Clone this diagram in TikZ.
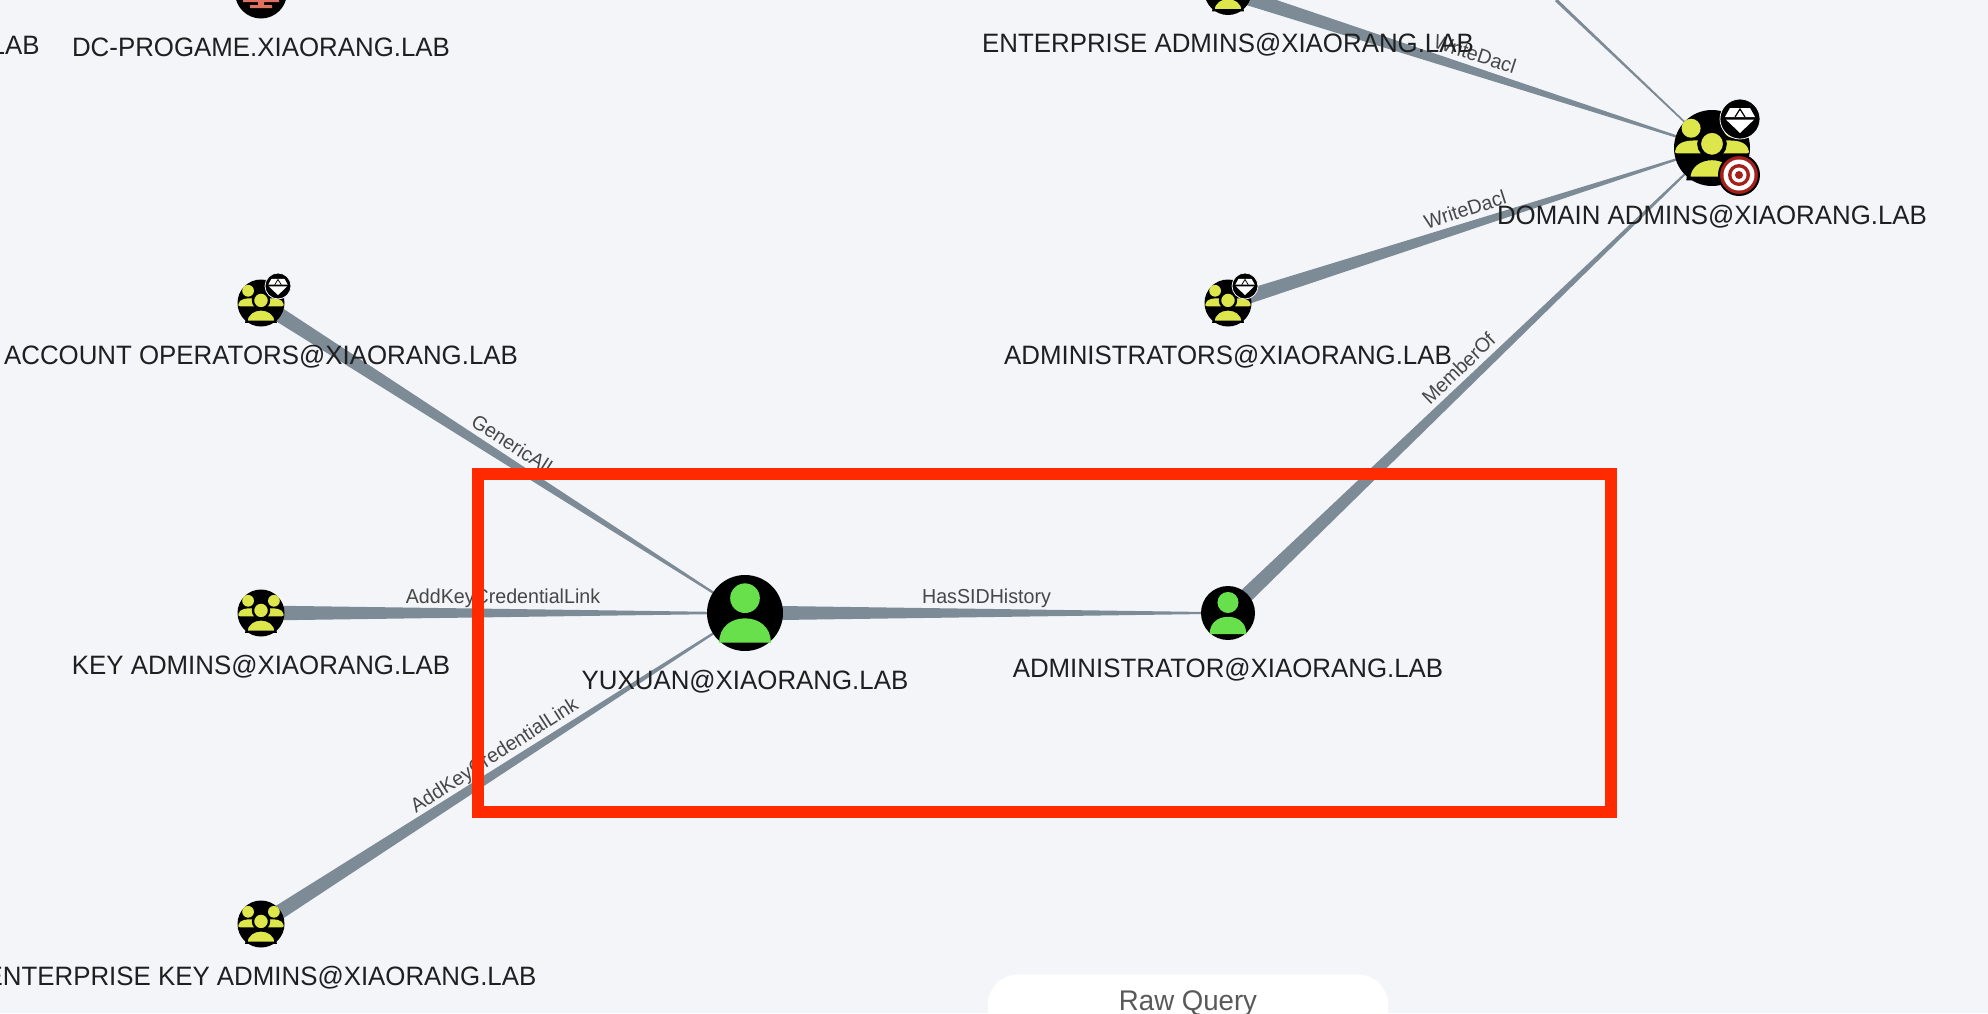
\documentclass[tikz,border=0pt]{standalone}
\usepackage{fontspec}
\setmainfont[FakeStretch=0.972]{Liberation Sans}
\usetikzlibrary{positioning, calc, backgrounds}

\definecolor{pagebg}{HTML}{F3F5F9}
\definecolor{edgegray}{HTML}{7C8B96}
\definecolor{usergreen}{HTML}{68E04B}
\definecolor{groupyellow}{HTML}{DDE64B}
\definecolor{hostsalmon}{HTML}{E0705F}
\definecolor{targetred}{HTML}{A5201A}
\definecolor{boxred}{HTML}{FF2A00}

% wedge from #2 (thick end) to #3 (thin end)
\newcommand{\taperedge}[3][3.75pt]{
  \fill[edgeline] ($(#2)!#1!90:(#3)$) -- ($(#2)!#1!-90:(#3)$)
    -- ($(#3)!.35pt!90:(#2)$) -- ($(#3)!.35pt!-90:(#2)$) -- cycle;
}
% icons: #1 node, #2 radius, drawn in units of the radius
\newcommand{\usericon}[2]{
  \begin{scope}[shift={(#1.center)}, x=#2*0.5pt, y=#2*0.5pt]
    \fill[usergreen] (0,.39) circle (.39);
    \fill[usergreen] (-.68,-.78) .. controls (-.68,-.35) and (-.35,-.14) .. (0,-.14)
      .. controls (.35,-.14) and (.68,-.35) .. (.68,-.78) -- cycle;
  \end{scope}
}
\newcommand{\groupicon}[2]{
  \begin{scope}[shift={(#1.center)}, x=#2*0.5pt, y=#2*0.5pt]
    \fill[groupyellow] (-.55,.52) circle (.25) (.55,.52) circle (.25);
    \fill[groupyellow, rounded corners=1pt] (-.98,-.14) .. controls (-.92,.2) and (-.6,.2) .. (-.3,.2)
      -- (.3,.2) .. controls (.6,.2) and (.92,.2) .. (.98,-.14) -- cycle;
    \filldraw[groupyellow, draw=black, line width=.05*#2*1pt] (0,.11) circle (.34);
    \filldraw[groupyellow, draw=black, line width=.05*#2*1pt] (-.62,-.8) .. controls (-.62,-.45) and (-.3,-.27) .. (0,-.27)
      .. controls (.3,-.27) and (.62,-.45) .. (.62,-.8) -- cycle;
  \end{scope}
}
\newcommand{\gembadge}[2]{
  \begin{scope}[shift={(#1.center)}, x=#2*0.5pt, y=#2*0.5pt]
    \fill[white] (-.5,.55) -- (.5,.55) -- (.75,.1) -- (-.75,.1) -- cycle;
    \fill[white] (-.7,-.03) -- (.7,-.03) -- (0,-.7) -- cycle;
    \draw[black, line width=.03*#2*1pt] (-.25,.1) -- (0,.5) -- (.25,.1);
  \end{scope}
}

\begin{document}
\begin{tikzpicture}[x=0.5pt, y=-0.5pt, node distance=8.9pt]
  \tikzset{
    usernode/.style={circle, fill=black, inner sep=0pt},
    groupnode/.style={circle, fill=black, inner sep=0pt, minimum size=23.5pt},
    gemnode/.style={circle, fill=black, draw=pagebg, line width=.4pt, inner sep=0pt},
    targetnode/.style={circle, fill=targetred, draw=black, line width=1pt, inner sep=0pt, minimum size=20pt},
    hostlabel/.style={inner sep=0pt, text height=9.5pt, text depth=0pt,
      text=black!88, font=\fontsize{13.3}{16}\selectfont},
    edgelabel/.style={midway, sloped, above=4.5pt, inner sep=0pt, text depth=0pt,
      text=black!72, font=\fontsize{10.1}{12}\selectfont},
    edgeline/.style={fill=edgegray},
    highlight/.style={draw=boxred, line width=6pt}
  }
  \path[use as bounding box, clip] (0,0) rectangle (1988,1013);

  \node[usernode, minimum size=38pt] (yuxuan) at (745,613) {};
  \node[usernode, minimum size=27pt] (admin) at (1228,613) {};
  \node[groupnode] (acctops) at (261,303) {};
  \node[groupnode] (keyadm) at (261,613) {};
  \node[groupnode] (entkey) at (261,924) {};
  \node[groupnode] (admins) at (1228,303) {};
  \node[groupnode] (entadm) at (1228,-8.5) {};
  \node[groupnode, minimum size=38pt] (domadm) at (1712,148) {};
  \node[circle, fill=black, inner sep=0pt, minimum size=26pt] (dcgame) at (261,-7.5) {};
  \coordinate (offpage) at (1556,0);

  \begin{scope}[on background layer]
    \fill[pagebg] (0,0) rectangle (1988,1013);
    \taperedge{acctops}{yuxuan}
    \path (acctops.center) -- (yuxuan.center) node[edgelabel] {GenericAll};
    \taperedge{keyadm}{yuxuan}
    \path (keyadm.center) -- (yuxuan.center) node[edgelabel] {AddKeyCredentialLink};
    \taperedge{entkey}{yuxuan}
    \path (entkey.center) -- (yuxuan.center) node[edgelabel] {AddKeyCredentialLink};
    \taperedge{yuxuan}{admin}
    \path (yuxuan.center) -- (admin.center) node[edgelabel] {HasSIDHistory};
    \taperedge{admin}{domadm}
    \path (admin.center) -- (domadm.center) node[edgelabel] {MemberOf};
    \taperedge{admins}{domadm}
    \path (admins.center) -- (domadm.center) node[edgelabel] {WriteDacl};
    \taperedge{entadm}{domadm}
    \path (entadm.center) -- (domadm.center) node[edgelabel] {WriteDacl};
    \taperedge[.8pt]{offpage}{domadm}
  \end{scope}

  \usericon{yuxuan}{38}
  \usericon{admin}{27}
  \groupicon{acctops}{23.5}
  \groupicon{keyadm}{23.5}
  \groupicon{entkey}{23.5}
  \groupicon{admins}{23.5}
  \groupicon{entadm}{23.5}
  \groupicon{domadm}{38}
  \node[gemnode, minimum size=13pt] (acctgem) at (278,286) {};
  \node[gemnode, minimum size=13pt] (adminsgem) at (1245,286) {};
  \node[gemnode, minimum size=20pt] (domgem) at (1740,119) {};
  \node[targetnode] (domtarget) at (1739,175) {};
  \gembadge{acctgem}{13}
  \gembadge{adminsgem}{13}
  \gembadge{domgem}{20}
  \fill[white] (domtarget) circle (15.5);
  \fill[targetred] (domtarget) circle (11);
  \fill[white] (domtarget) circle (7.5);
  \fill[targetred] (domtarget) circle (4);
  % monitor stand of the host, the rest is off the page
  \fill[hostsalmon] (243,-2) rectangle (279,2) (258,2) rectangle (264,6) (250,5) rectangle (272,8);

  \node[hostlabel, below=9.3pt of yuxuan] (yuxuanlabel) {YUXUAN@XIAORANG.LAB};
  \node[hostlabel, below=of admin] (adminlabel) {ADMINISTRATOR@XIAORANG.LAB};
  \node[hostlabel, below=of acctops] (acctopslabel) {ACCOUNT OPERATORS@XIAORANG.LAB};
  \node[hostlabel, below=of keyadm] (keyadmlabel) {KEY ADMINS@XIAORANG.LAB};
  \node[hostlabel, below=of entkey] (entkeylabel) {ENTERPRISE KEY ADMINS@XIAORANG.LAB};
  \node[hostlabel, below=of admins] (adminslabel) {ADMINISTRATORS@XIAORANG.LAB};
  \node[hostlabel, below=of entadm] (entadmlabel) {ENTERPRISE ADMINS@XIAORANG.LAB};
  \node[hostlabel, below=9.3pt of domadm] (domadmlabel) {DOMAIN ADMINS@XIAORANG.LAB};
  \node[hostlabel, below=of dcgame] (dcgamelabel) {DC-PROGAME.XIAORANG.LAB};
  \node[hostlabel, anchor=north east] (cutlabel) at (40,35) {LAB};

  \draw[highlight] (478,474) rectangle (1611,812);

  \node[fill=white, rounded corners=15pt, minimum width=200pt, minimum height=40pt, inner sep=0pt, anchor=north] (rawbox) at (1188,974) {};
  \node[text=black!65, inner sep=0pt, text height=9.5pt, text depth=0pt, font=\fontsize{14.2}{16}\selectfont, anchor=north] (rawlabel) at (1188,991) {Raw Query};
\end{tikzpicture}
\end{document}
